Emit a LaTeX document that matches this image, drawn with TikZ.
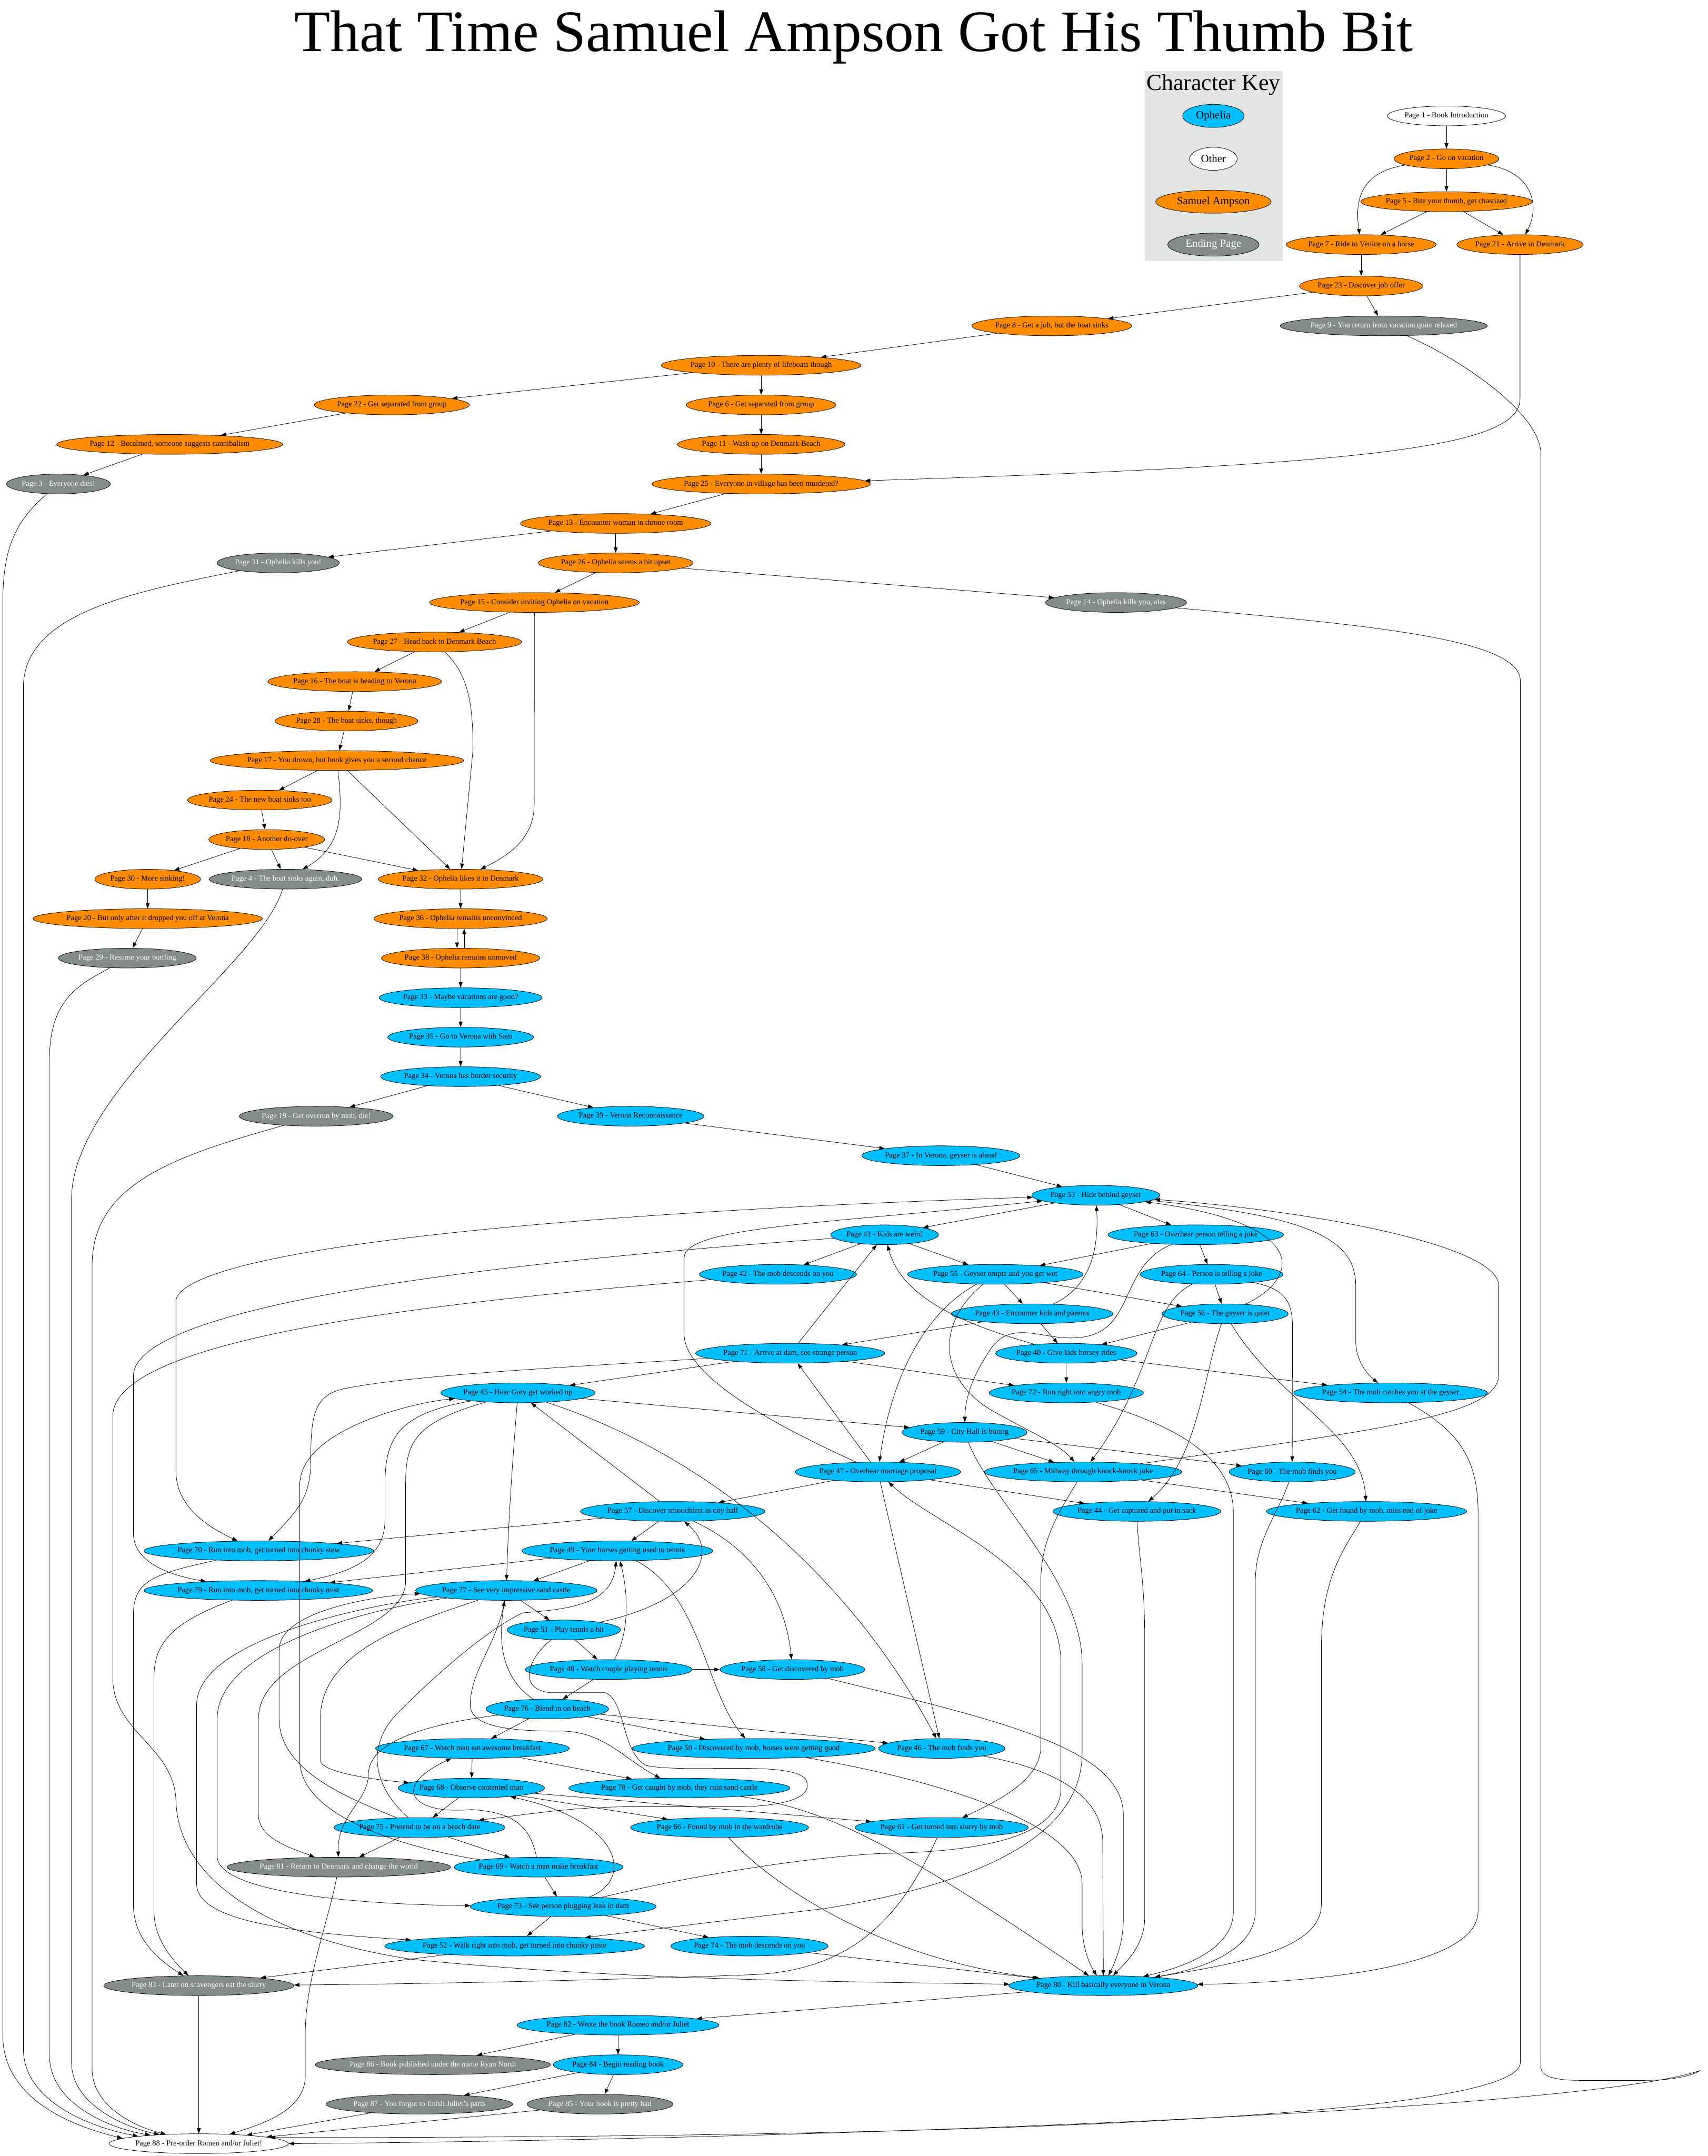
\documentclass[tikz,border=0pt]{standalone}
\usepackage{fontspec}
\setmainfont{Liberation Serif}
\usetikzlibrary{arrows.meta, positioning, shapes.geometric}
\definecolor{opheliablue}{HTML}{00BFFF}
\definecolor{samorange}{HTML}{FF8C00}
\definecolor{endgray}{HTML}{838B8B}
\definecolor{keygray}{HTML}{E3E5E3}

\begin{document}
\begin{tikzpicture}[x=2.505pt, y=-2.505pt, line width=0.75pt,
  >={Triangle[length=10pt,width=7pt]},
  page/.style={ellipse, draw=black, line width=0.75pt, inner xsep=0pt, inner ysep=2pt, minimum height=36pt, font=\fontsize{14}{16}\selectfont},
  sam/.style={page, fill=samorange},
  oph/.style={page, fill=opheliablue},
  other/.style={page, fill=white},
  ending/.style={page, fill=endgray, text=white},
  keynode/.style={ellipse, draw=black, line width=0.75pt, inner xsep=8pt, minimum height=42pt, font=\fontsize{20}{24}\selectfont},
  link/.style={->}]
  \useasboundingbox (0,0) rectangle (1242,1568);

  % Titel
  \node[font=\fontsize{107}{110}\selectfont] (title) at (621,27) {That Time Samuel Ampson Got His Thumb Bit};

  % Character key
  \fill[keygray] (832.6,51.8) rectangle (933,190);
  \node[font=\fontsize{42}{46}\selectfont] (keytitle) at (882.5,61.7) {Character Key};
  \node[keynode, fill=opheliablue] (kophelia) at (882.5,84.3) {Ophelia};
  \node[keynode, fill=white] (kother) at (882.5,115.5) {Other};
  \node[keynode, fill=samorange] (ksam) at (882.5,146.7) {Samuel Ampson};
  \node[keynode, fill=endgray, text=white] (kend) at (882.5,177.9) {Ending Page};

  % Samuel Ampson
  \node[other] (p1) at (1052,84.3) {Page 1 - Book Introduction};
  \node[sam] (p2) at (1052,115.5) {Page 2 - Go on vacation};
  \node[sam] (p5) at (1052,146.7) {Page 5 - Bite your thumb, get chastized};
  \node[sam] (p7) at (990,177.9) {Page 7 - Ride to Venice on a horse};
  \node[sam] (p21) at (1105.5,177.9) {Page 21 - Arrive in Denmark};
  \node[sam] (p23) at (990,208) {Page 23 - Discover job offer};
  \node[sam] (p8) at (765,237) {Page 8 - Get a job, but the boat sinks};
  \node[ending] (p9) at (1006.4,237) {Page 9 - You return from vacation quite relaxed};
  \node[sam] (p10) at (553.6,265.7) {Page 10 - There are plenty of lifeboats though};
  \node[sam] (p22) at (285,294.5) {Page 22 - Get separated from group};
  \node[sam] (p6) at (553.6,294.5) {Page 6 - Get separated from group};
  \node[sam] (p12) at (123.4,323.2) {Page 12 - Becalmed, someone suggests cannibalism};
  \node[sam] (p11) at (553.6,323.2) {Page 11 - Wash up on Denmark Beach};
  \node[ending] (p3) at (42.5,352) {Page 3 - Everyone dies!};
  \node[sam] (p25) at (553.6,352) {Page 25 - Everyone in village has been murdered?};
  \node[sam] (p13) at (447.8,380.7) {Page 13 - Encounter woman in throne room};
  \node[ending] (p31) at (202.3,409.4) {Page 31 - Ophelia kills you!};
  \node[sam] (p26) at (447.8,409.4) {Page 26 - Ophelia seems a bit upset};
  \node[sam] (p15) at (388.7,438.2) {Page 15 - Consider inviting Ophelia on vacation};
  \node[ending] (p14) at (811.7,438.2) {Page 14 - Ophelia kills you, alas};
  \node[sam] (p27) at (316,466.9) {Page 27 - Head back to Denmark Beach};
  \node[sam] (p16) at (258,495.7) {Page 16 - The boat is heading to Verona};
  \node[sam] (p28) at (252,524.4) {Page 28 - The boat sinks, though};
  \node[sam] (p17) at (245,553.1) {Page 17 - You drown, but book gives you a second chance};
  \node[sam] (p24) at (189,581.9) {Page 24 - The new boat sinks too};
  \node[sam] (p18) at (194,610.6) {Page 18 - Another do-over};
  \node[sam] (p30) at (107.4,639.4) {Page 30 - More sinking!};
  \node[ending] (p4) at (207.6,639.4) {Page 4 - The boat sinks again, duh.};
  \node[sam] (p32) at (335,639.4) {Page 32 - Ophelia likes it in Denmark};
  \node[sam] (p20) at (107.4,668.1) {Page 20 - But only after it dropped you off at Verona};
  \node[sam] (p36) at (335,668.1) {Page 36 - Ophelia remains unconvinced};
  \node[ending] (p29) at (92.6,696.8) {Page 29 - Resume your buttling};
  \node[sam] (p38) at (335,696.8) {Page 38 - Ophelia remains unmoved};

  % Ophelia
  \node[oph] (p33) at (335,725.6) {Page 33 - Maybe vacations are good?};
  \node[oph] (p35) at (335,754.3) {Page 35 - Go to Verona with Sam};
  \node[oph] (p34) at (335,783) {Page 34 - Verona has border security};
  \node[ending] (p19) at (230,811.8) {Page 19 - Get overrun by mob, die!};
  \node[oph] (p39) at (458.7,811.8) {Page 39 - Verona Reconnaissance};
  \node[oph] (p37) at (684.3,840.5) {Page 37 - In Verona, geyser is ahead};
  \node[oph] (p53) at (797,869.3) {Page 53 - Hide behind geyser};
  \node[oph] (p41) at (643.4,898) {Page 41 - Kids are weird};
  \node[oph] (p63) at (869.7,898) {Page 63 - Overhear person telling a joke};
  \node[oph] (p42) at (565.8,926.8) {Page 42 - The mob descends on you};
  \node[oph] (p55) at (723.9,926.8) {Page 55 - Geyser erupts and you get wet};
  \node[oph] (p64) at (881.2,926.8) {Page 64 - Person is telling a joke};
  \node[oph] (p43) at (750.7,955.5) {Page 43 - Encounter kids and parents};
  \node[oph] (p56) at (891,955.5) {Page 56 - The geyser is quiet};
  \node[oph] (p71) at (574.7,984.2) {Page 71 - Arrive at dam, see strange person};
  \node[oph] (p40) at (775.5,984.2) {Page 40 - Give kids horsey rides};
  \node[oph] (p45) at (376.7,1013) {Page 45 - Hear Gary get worked up};
  \node[oph] (p72) at (775.5,1013) {Page 72 - Run right into angry mob};
  \node[oph] (p54) at (1011.4,1013) {Page 54 - The mob catches you at the geyser};
  \node[oph] (p59) at (701.5,1041.7) {Page 59 - City Hall is boring};
  \node[oph] (p47) at (638.5,1070.5) {Page 47 - Overhear marriage proposal};
  \node[oph] (p65) at (787.7,1070.5) {Page 65 - Midway through knock-knock joke};
  \node[oph] (p60) at (939.8,1070.5) {Page 60 - The mob finds you};
  \node[oph] (p57) at (489.2,1099.2) {Page 57 - Discover smoochfest in city hall};
  \node[oph] (p44) at (826.8,1099.2) {Page 44 - Get captured and put in sack};
  \node[oph] (p62) at (993.9,1099.2) {Page 62 - Get found by mob, miss end of joke};
  \node[oph] (p70) at (188.2,1127.9) {Page 70 - Run into mob, get turned into chunky stew};
  \node[oph] (p49) at (449,1127.9) {Page 49 - Your horses getting used to tennis};
  \node[oph] (p79) at (187.9,1156.7) {Page 79 - Run into mob, get turned into chunky mist};
  \node[oph] (p77) at (368.2,1156.7) {Page 77 - See very impressive sand castle};
  \node[oph] (p51) at (410.1,1185.4) {Page 51 - Play tennis a bit};
  \node[oph] (p48) at (442.8,1214.2) {Page 48 - Watch couple playing tennis};
  \node[oph] (p58) at (576.4,1214.2) {Page 58 - Get discovered by mob};
  \node[oph] (p76) at (398.1,1242.9) {Page 76 - Blend in on beach};
  \node[oph] (p67) at (343.6,1271.6) {Page 67 - Watch man eat awesome breakfast};
  \node[oph] (p50) at (548.2,1271.6) {Page 50 - Discovered by mob, horses were getting good};
  \node[oph] (p46) at (684.9,1271.6) {Page 46 - The mob finds you};
  \node[oph] (p68) at (342.8,1300.4) {Page 68 - Observe contented man};
  \node[oph] (p78) at (494.1,1300.4) {Page 78 - Get caught by mob, they ruin sand castle};
  \node[oph] (p75) at (305.2,1329.1) {Page 75 - Pretend to be on a beach date};
  \node[oph] (p66) at (523.4,1329.1) {Page 66 - Found by mob in the wardrobe};
  \node[oph] (p61) at (684.9,1329.1) {Page 61 - Get turned into slurry by mob};
  \node[ending] (p81) at (246.4,1357.9) {Page 81 - Return to Denmark and change the world};
  \node[oph] (p69) at (391.7,1357.9) {Page 69 - Watch a man make breakfast};
  \node[oph] (p73) at (409.6,1386.6) {Page 73 - See person plugging leak in dam};
  \node[oph] (p52) at (374.3,1415.3) {Page 52 - Walk right into mob, get turned into chunky paste};
  \node[oph] (p74) at (545.1,1415.3) {Page 74 - The mob descends on you};
  \node[ending] (p83) at (144.6,1444.1) {Page 83 - Later on scavengers eat the slurry};
  \node[oph] (p80) at (802.5,1444.1) {Page 80 - Kill basically everyone in Verona};
  \node[oph] (p82) at (449.5,1472.8) {Page 82 - Wrote the book Romeo and/or Juliet};
  \node[ending] (p86) at (314.8,1501.6) {Page 86 - Book published under the name Ryan North};
  \node[oph] (p84) at (449.5,1501.6) {Page 84 - Begin reading book};
  \node[ending] (p87) at (305,1530.3) {Page 87 - You forgot to finish Juliet's parts};
  \node[ending] (p85) at (436.4,1530.3) {Page 85 - Your book is pretty bad};
  \node[other] (p88) at (144.6,1559) {Page 88 - Pre-order Romeo and/or Juliet!};

  % Vacation and Denmark
  \draw[link] (p1) -- (p2);
  \draw[link] (p2) .. controls (990,125) and (985,145) .. (p7);
  \draw[link] (p2) .. controls (1115,125) and (1120,150) .. (p21);
  \draw[link] (p2) -- (p5);
  \draw[link] (p5) -- (p7);
  \draw[link] (p5) -- (p21);
  \draw[link] (p7) -- (p23);
  \draw[link] (p23) -- (p8);
  \draw[link] (p23) -- (p9);
  \draw[link] (p21) -- (1105.5,290) .. controls (1105.5,325) and (1000,338) .. (p25);
  \draw[link] (p8) -- (p10);
  \draw[link] (p10) -- (p22);
  \draw[link] (p10) -- (p6);
  \draw[link] (p22) -- (p12);
  \draw[link] (p6) -- (p11);
  \draw[link] (p12) -- (p3);
  \draw[link] (p11) -- (p25);
  \draw[link] (p25) -- (p13);
  \draw[link] (p13) -- (p31);
  \draw[link] (p13) -- (p26);
  \draw[link] (p26) -- (p15);
  \draw[link] (p26) -- (p14);
  \draw[link] (p15) -- (p27);
  \draw[link] (p15) -- (388.5,585) .. controls (388.5,610) and (370,622) .. (p32);
  \draw[link] (p27) .. controls (340,490) and (344,510) .. (344,545) -- (p32);
  \draw[link] (p27) -- (p16);
  \draw[link] (p16) -- (p28);
  \draw[link] (p28) -- (p17);
  \draw[link] (p17) -- (p24);
  \draw[link] (p17) .. controls (249,590) and (250,615) .. (p4);
  \draw[link] (p17) -- (p32);
  \draw[link] (p24) -- (p18);
  \draw[link] (p18) -- (p30);
  \draw[link] (p18) -- (p4);
  \draw[link] (p18) -- (p32);
  \draw[link] (p30) -- (p20);
  \draw[link] (p20) -- (p29);
  \draw[link] (p32) -- (p36);
  \draw[link] ([xshift=-6.5pt]p36.south) -- ([xshift=-6.5pt]p38.north);
  \draw[link] ([xshift=6.5pt]p38.north) -- ([xshift=6.5pt]p36.south);
  \draw[link] (p38) -- (p33);
  \draw[link] (p33) -- (p35);
  \draw[link] (p35) -- (p34);
  \draw[link] (p34) -- (p19);
  \draw[link] (p34) -- (p39);
  \draw[link] (p39) -- (p37);
  \draw[link] (p37) -- (p53);

  % Endings down to page 88
  \draw[link] (p3) .. controls (10,380) and (2,400) .. (2,440) -- (2,1480) .. controls (2,1530) and (60,1548) .. (p88.176);
  \draw[link] (p31) .. controls (100,430) and (17,445) .. (17,500) -- (17,1490) .. controls (17,1530) and (70,1548) .. (p88.173);
  \draw[link] (p29) .. controls (60,715) and (36,725) .. (36,770) -- (36,1495) .. controls (36,1530) and (80,1548) .. (p88.170);
  \draw[link] (p4) .. controls (190,700) and (55,790) .. (52,870) -- (52,1500) .. controls (52,1530) and (90,1547) .. (p88.167);
  \draw[link] (p19) .. controls (130,840) and (67,860) .. (67,920) -- (67,1505) .. controls (67,1530) and (95,1546) .. (p88.164);
  \draw[link] (p83) -- (p88);
  \draw[link] (p81) .. controls (238,1400) and (222,1440) .. (222,1480) -- (222,1510) .. controls (222,1535) and (190,1545) .. (p88);
  \draw[link] (p87) -- (p88);
  \draw[link] (p85) -- (p88);
  \draw[link] (p14) .. controls (1000,455) and (1105.7,465) .. (1105.7,495) -- (1105.7,1500) .. controls (1105.7,1545) and (600,1555) .. (p88.5);
  \draw[link] (p9) .. controls (1060,260) and (1120.6,300) .. (1120.6,330) -- (1120.6,1503) .. controls (1120.6,1510) and (1130,1513) .. (1150,1513) -- (1195,1513) .. controls (1215,1513) and (1230,1510) .. (1236,1506) .. controls (1150,1535) and (600,1556) .. (p88.east);

  % Geyser
  \draw[link] (p53) -- (p41);
  \draw[link] (p53) -- (p63);
  \draw[link] (p53) .. controls (950,884) and (986,900) .. (986,935) -- (986,975) .. controls (986,990) and (995,1000) .. (p54);
  \draw[link] (p65) .. controls (1000,1040) and (1090,1030) .. (1090,1000) -- (1090,935) .. controls (1090,905) and (950,880) .. (p53);
  \draw[link] (p56) .. controls (945,930) and (955,890) .. (p53);
  \draw[link] (p43) .. controls (795,935) and (799,905) .. (p53);
  \draw[link] (p47) .. controls (560,1035) and (497.5,1000) .. (497.5,970) -- (497.5,915) .. controls (497.5,892) and (600,890) .. (p53);
  \draw[<->] (p53) .. controls (450,880) and (140,905) .. (128,945) -- (128,1070) .. controls (128,1095) and (150,1110) .. (p70);
  \draw[link] (p41) -- (p42);
  \draw[link] (p41) -- (p55);
  \draw[link] (p41) .. controls (400,915) and (100,945) .. (97,1000) -- (97,1115) .. controls (97,1135) and (120,1145) .. (p79);
  \draw[link] (p63) -- (p55);
  \draw[link] (p63) -- (p64);
  \draw[link] (p63) .. controls (815,920) and (825,965) .. (790,972) .. controls (760,978) and (735,955) .. (718,985) .. controls (705,1005) and (702,1020) .. (p59);
  \draw[link] (p42) .. controls (300,948) and (82,975) .. (82,1030) -- (82,1220) .. controls (82,1260) and (127,1270) .. (128,1310) .. controls (130,1370) and (200,1410) .. (300,1425) .. controls (450,1440) and (600,1441) .. (p80);
  \draw[link] (p55) -- (p43);
  \draw[link] (p55) -- (p56);
  \draw[link] (p55) .. controls (680,950) and (650,990) .. (p47);
  \draw[link] (p55) .. controls (683,960) and (680,1000) .. (720,1025) .. controls (750,1042) and (770,1050) .. (p65);
  \draw[link] (p64) -- (p56);
  \draw[link] (p64) .. controls (835,950) and (840,1000) .. (p65);
  \draw[link] (p64) .. controls (933,937) and (940,945) .. (940,965) -- (p60);
  \draw[link] (p43) -- (p71);
  \draw[link] (p43) -- (p40);
  \draw[link] (p56) -- (p40);
  \draw[link] (p56) .. controls (875,1000) and (872,1060) .. (p44);
  \draw[link] (p56) .. controls (930,1020) and (990,1040) .. (p62);
  \draw[link] (p40) .. controls (690,960) and (655,940) .. (p41);
  \draw[link] (p71) -- (p41);
  \draw[link] (p40) -- (p72);
  \draw[link] (p40) -- (p54);
  \draw[link] (p71) -- (p72);

  % City hall and dam
  \draw[link] (p71) -- (p45);
  \draw[link] (p71) .. controls (400,995) and (300,1000) .. (250,1010) .. controls (228,1015) and (226,1030) .. (226,1063) .. controls (226,1090) and (215,1100) .. (p70);
  \draw[link] (p45) -- (p59);
  \draw[link] (p45) .. controls (290,1028) and (280,1045) .. (280,1080) -- (280,1105) .. controls (280,1130) and (262,1142) .. (p79);
  \draw[link] (p45) .. controls (373,1060) and (370,1100) .. (p77);
  \draw[link] (p45) .. controls (520,1060) and (620,1150) .. (p46);
  \draw[link] (p45) .. controls (300,1035) and (295,1050) .. (295,1080) -- (295,1150) .. controls (295,1190) and (188,1200) .. (188,1250) -- (188,1320) .. controls (188,1338) and (215,1345) .. (p81);
  \draw[link] (p57) -- (p45);
  \draw[link] (p59) -- (p47);
  \draw[link] (p59) -- (p65);
  \draw[link] (p59) -- (p60);
  \draw[link] (p59) .. controls (720,1090) and (787,1150) .. (787,1210) -- (787,1275) .. controls (787,1340) and (700,1372) .. (600,1388) .. controls (500,1400) and (460,1405) .. (p52);
  \draw[link] (p47) -- (p71);
  \draw[link] (p47) -- (p57);
  \draw[link] (p47) -- (p44);
  \draw[link] (p47) -- (p46);
  \draw[link] (p65) -- (p62);
  \draw[link] (p65) .. controls (770,1100) and (757,1120) .. (757,1150) -- (757,1270) .. controls (757,1295) and (725,1310) .. (p61);

  % Mob endings to page 80
  \draw[link] (p72) .. controls (830,1030) and (897,1050) .. (897,1100) -- (897,1390) .. controls (897,1420) and (855,1432) .. (p80);
  \draw[link] (p54) .. controls (1060,1040) and (1075,1060) .. (1075,1100) -- (1075,1390) .. controls (1075,1432) and (950,1442) .. (p80);
  \draw[link] (p60) .. controls (930,1100) and (913,1120) .. (913,1150) -- (913,1390) .. controls (913,1418) and (875,1432) .. (p80);
  \draw[link] (p44) .. controls (828,1130) and (832.5,1150) .. (832.5,1190) -- (832.5,1395) .. controls (832.5,1415) and (818,1428) .. (p80);
  \draw[link] (p62) .. controls (975,1130) and (961,1150) .. (961,1200) -- (961,1385) .. controls (961,1418) and (900,1428) .. (p80);
  \draw[link] (p58) .. controls (720,1250) and (817,1270) .. (817,1320) -- (817,1395) .. controls (817,1412) and (812,1425) .. (p80);
  \draw[link] (p46) .. controls (775,1288) and (802,1310) .. (802,1340) -- (p80);
  \draw[link] (p50) .. controls (700,1298) and (787,1330) .. (787,1370) -- (787,1400) .. controls (787,1415) and (792,1428) .. (p80);
  \draw[link] (p78) .. controls (600,1315) and (650,1340) .. (p80);
  \draw[link] (p66) .. controls (560,1370) and (640,1425) .. (p80);
  \draw[link] (p74) -- (p80);

  % Beach
  \draw[link] (p57) -- (p70);
  \draw[link] (p57) -- (p49);
  \draw[link] (p57) .. controls (555,1130) and (572,1170) .. (p58);
  \draw[link] (p49) -- (p79);
  \draw[link] (p49) -- (p77);
  \draw[link] (p49) .. controls (510,1160) and (513,1230) .. (p50);
  \draw[link] (p77) -- (p51);
  \draw[link] (p77) .. controls (300,1180) and (233,1200) .. (233,1250) -- (233,1280) .. controls (233,1290) and (280,1295) .. (p68);
  \draw[link] (p77) .. controls (280,1165) and (143,1190) .. (143,1240) -- (143,1370) .. controls (143,1395) and (200,1405) .. (p52);
  \draw[link] (p77) .. controls (280,1168) and (158,1195) .. (158,1250) -- (158,1350) .. controls (158,1375) and (250,1385) .. (p73);
  \draw[link] (p77) .. controls (362,1195) and (342,1215) .. (342,1240) .. controls (342,1258) and (380,1259) .. (410,1259) .. controls (440,1260) and (455,1280) .. (p78);
  \draw[link] (p51) -- (p48);
  \draw[link] (p51) .. controls (505,1165) and (525,1130) .. (p57);
  \draw[link] (p51) .. controls (385,1205) and (375,1228) .. (400,1231) -- (440,1231) .. controls (455,1236) and (452,1275) .. (470,1284) .. controls (500,1290) and (575,1280) .. (586,1294) .. controls (592,1306) and (575,1313) .. (540,1314) -- (460,1314) .. controls (420,1314) and (395,1318) .. (p75);
  \draw[link] (p48) .. controls (459,1185) and (456,1155) .. (p49);
  \draw[link] (p48) -- (p76);
  \draw[link] (p48) -- (p58);
  \draw[link] (p76) -- (p67);
  \draw[link] (p76) -- (p50);
  \draw[link] (p76) -- (p46);
  \draw[link] (p76) .. controls (365,1220) and (362,1195) .. (p77);
  \draw[link] (p76) .. controls (300,1255) and (268,1270) .. (268,1290) .. controls (268,1310) and (245,1320) .. (p81);
  \draw[link] (p67) -- (p68);
  \draw[link] (p67) -- (p78);
  \draw[link] (p68) -- (p75);
  \draw[link] (p68) -- (p66);
  \draw[link] (p68) -- (p61);
  \draw[link] (p75) -- (p81);
  \draw[link] (p75) -- (p69);
  \draw[link] (p75) .. controls (272,1300) and (265,1270) .. (290,1245) .. controls (320,1215) and (355,1185) .. (380,1173) .. controls (420,1170) and (445,1165) .. (p49);
  \draw[link] (p75) .. controls (260,1310) and (203,1290) .. (203,1250) -- (203,1200) .. controls (203,1170) and (280,1160) .. (p77);
  \draw[link] (p69) -- (p73);
  \draw[link] (p69) .. controls (385,1325) and (370,1318) .. (343,1316) .. controls (300,1320) and (283,1300) .. (p67);
  \draw[link] (p69) .. controls (330,1350) and (218,1330) .. (218,1280) -- (218,1080) .. controls (218,1040) and (300,1020) .. (p45);
  \draw[link] (p73) -- (p52);
  \draw[link] (p73) -- (p74);
  \draw[link] (p73) .. controls (460,1368) and (455,1325) .. (p68);
  \draw[link] (p73) .. controls (520,1360) and (600,1350) .. (640,1348) .. controls (700,1347) and (771.6,1340) .. (771.6,1300) -- (771.6,1210) .. controls (771.6,1140) and (680,1110) .. (p47);

  % Slurry
  \draw[link] (p70) .. controls (110,1145) and (97,1150) .. (97,1175) -- (97,1385) .. controls (97,1410) and (115,1425) .. (p83);
  \draw[link] (p79) .. controls (125,1180) and (112,1195) .. (112,1220) -- (112,1390) .. controls (112,1410) and (125,1425) .. (p83);
  \draw[link] (p52) -- (p83);
  \draw[link] (p61) .. controls (655,1395) and (620,1432) .. (550,1436) .. controls (450,1440) and (300,1443) .. (p83);

  % The book
  \draw[link] (p80) -- (p82);
  \draw[link] (p82) -- (p86);
  \draw[link] (p82) -- (p84);
  \draw[link] (p84) -- (p87);
  \draw[link] (p84) -- (p85);
\end{tikzpicture}
\end{document}
